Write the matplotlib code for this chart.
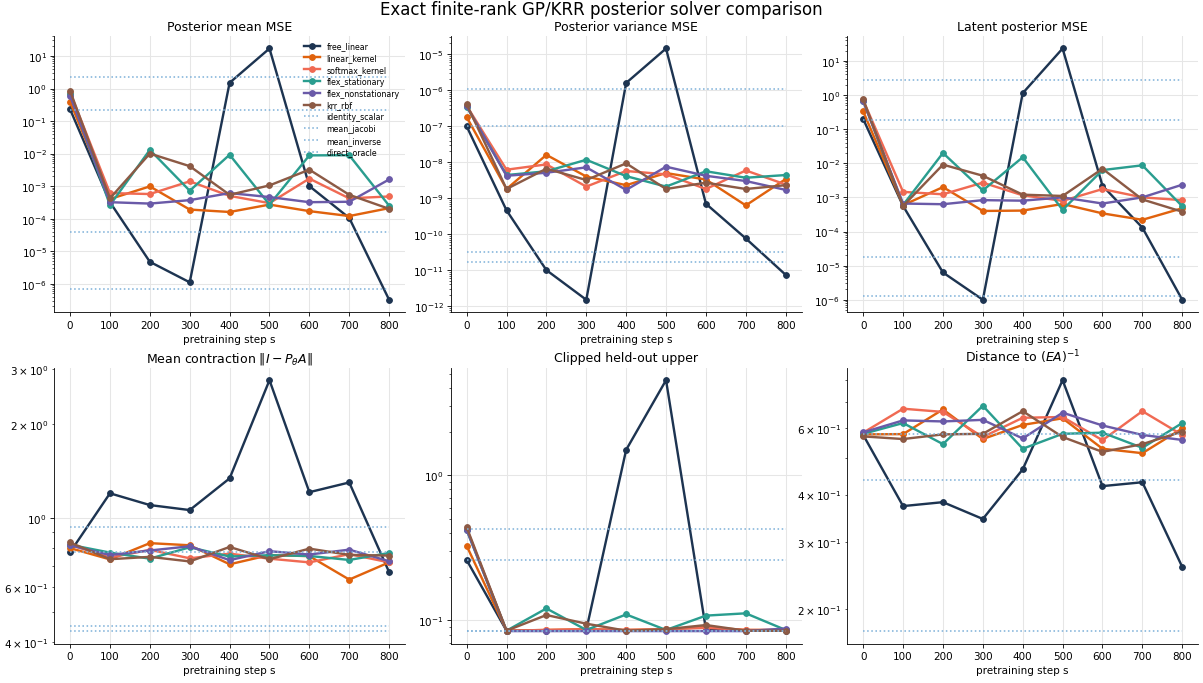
import numpy as np
import matplotlib
matplotlib.use("Agg")
import matplotlib.pyplot as plt

steps = [0, 100, 200, 300, 400, 500, 600, 700, 800]

methods = ["free_linear", "linear_kernel", "softmax_kernel",
           "flex_stationary", "flex_nonstationary", "krr_rbf"]
colors = {
    "free_linear": "#1d3451",
    "linear_kernel": "#e0620d",
    "softmax_kernel": "#f06a53",
    "flex_stationary": "#2a9d8f",
    "flex_nonstationary": "#6a5aa8",
    "krr_rbf": "#8c5a45",
}
baselines = ["identity_scalar", "mean_jacobi", "mean_inverse", "direct_oracle"]

# posterior mean MSE
mean_mse = {
    "free_linear": [0.23, 3.2e-4, 4.7e-6, 1.1e-6, 1.5, 17.0, 1.0e-3, 1.05e-4, 3.2e-7],
    "linear_kernel": [0.39, 4.0e-4, 9.8e-4, 1.9e-4, 1.6e-4, 2.7e-4, 1.7e-4, 1.2e-4, 2.1e-4],
    "softmax_kernel": [0.75, 6.1e-4, 5.7e-4, 1.4e-3, 5.0e-4, 3.0e-4, 1.7e-3, 4.2e-4, 4.8e-4],
    "flex_stationary": [0.7, 2.6e-4, 1.3e-2, 7.2e-4, 9.2e-3, 2.7e-4, 8.8e-3, 8.9e-3, 2.5e-4],
    "flex_nonstationary": [0.6, 3.2e-4, 2.9e-4, 3.7e-4, 6.1e-4, 4.6e-4, 3.2e-4, 3.3e-4, 1.6e-3],
    "krr_rbf": [0.85, 4.2e-4, 1.0e-2, 4.1e-3, 5.4e-4, 1.05e-3, 3.2e-3, 5.4e-4, 2.0e-4],
}
mean_mse_base = [2.3, 0.22, 4.0e-5, 6.9e-7]

# posterior variance MSE
var_mse = {
    "free_linear": [1.0e-7, 4.6e-10, 1.0e-11, 1.5e-12, 1.6e-6, 1.45e-5, 7.0e-10, 7.6e-11, 7.4e-12],
    "linear_kernel": [1.8e-7, 1.8e-9, 1.6e-8, 4.0e-9, 2.3e-9, 5.0e-9, 3.3e-9, 6.3e-10, 3.4e-9],
    "softmax_kernel": [3.7e-7, 6.2e-9, 8.7e-9, 2.1e-9, 5.7e-9, 4.6e-9, 1.8e-9, 5.9e-9, 2.4e-9],
    "flex_stationary": [3.5e-7, 4.4e-9, 5.6e-9, 1.17e-8, 4.1e-9, 2.1e-9, 5.6e-9, 3.7e-9, 4.4e-9],
    "flex_nonstationary": [3.6e-7, 4.2e-9, 5.1e-9, 7.2e-9, 1.7e-9, 7.5e-9, 4.2e-9, 3.0e-9, 1.7e-9],
    "krr_rbf": [4.1e-7, 1.8e-9, 6.6e-9, 3.2e-9, 9.3e-9, 1.8e-9, 2.7e-9, 1.8e-9, 2.3e-9],
}
var_mse_base = [1.1e-6, 1.0e-7, 3.2e-11, 1.65e-11]

# latent posterior MSE
latent_mse = {
    "free_linear": [0.197, 5.6e-4, 6.3e-6, 1.0e-6, 1.13, 23.0, 2.2e-3, 1.3e-4, 1.0e-6],
    "linear_kernel": [0.33, 5.9e-4, 2.0e-3, 4.0e-4, 4.1e-4, 6.4e-4, 3.4e-4, 2.2e-4, 4.8e-4],
    "softmax_kernel": [0.7, 1.45e-3, 1.23e-3, 2.7e-3, 1.15e-3, 7.9e-4, 1.75e-3, 1.0e-3, 8.3e-4],
    "flex_stationary": [0.68, 6.0e-4, 2.0e-2, 1.6e-3, 1.5e-2, 4.3e-4, 6.3e-3, 8.7e-3, 5.5e-4],
    "flex_nonstationary": [0.65, 6.6e-4, 6.3e-4, 8.3e-4, 8.0e-4, 1.0e-3, 6.6e-4, 1.0e-3, 2.35e-3],
    "krr_rbf": [0.74, 5.6e-4, 9.1e-3, 4.3e-3, 1.2e-3, 1.1e-3, 6.9e-3, 8.7e-4, 3.8e-4],
}
latent_mse_base = [2.8, 0.19, 1.78e-5, 1.3e-6]

# mean contraction ||I - P A||
contraction = {
    "free_linear": [0.776, 1.20, 1.10, 1.06, 1.34, 2.77, 1.21, 1.30, 0.67],
    "linear_kernel": [0.80, 0.736, 0.83, 0.817, 0.71, 0.76, 0.754, 0.634, 0.72],
    "softmax_kernel": [0.82, 0.746, 0.79, 0.742, 0.768, 0.74, 0.72, 0.765, 0.72],
    "flex_stationary": [0.82, 0.774, 0.74, 0.805, 0.752, 0.759, 0.755, 0.733, 0.772],
    "flex_nonstationary": [0.817, 0.76, 0.786, 0.811, 0.732, 0.782, 0.763, 0.791, 0.726],
    "krr_rbf": [0.834, 0.737, 0.75, 0.725, 0.807, 0.737, 0.797, 0.761, 0.757],
}
contraction_base = [0.938, 0.776, 0.45, 0.432]

# clipped held-out upper bound
heldout = {
    "free_linear": [0.261, 0.085, 0.085, 0.086, 1.5, 4.53, 0.087, 0.085, 0.085],
    "linear_kernel": [0.327, 0.085, 0.086, 0.087, 0.086, 0.087, 0.090, 0.086, 0.086],
    "softmax_kernel": [0.43, 0.085, 0.086, 0.087, 0.086, 0.087, 0.089, 0.086, 0.086],
    "flex_stationary": [0.42, 0.085, 0.121, 0.086, 0.110, 0.086, 0.108, 0.112, 0.086],
    "flex_nonstationary": [0.423, 0.0845, 0.0845, 0.0845, 0.0845, 0.0845, 0.0845, 0.0845, 0.088],
    "krr_rbf": [0.44, 0.085, 0.109, 0.095, 0.085, 0.087, 0.093, 0.085, 0.085],
}
heldout_base = [0.425, 0.26, 0.084, 0.084]

# distance to (EA)^-1
distance = {
    "free_linear": [0.574, 0.373, 0.382, 0.345, 0.466, 0.80, 0.421, 0.431, 0.258],
    "linear_kernel": [0.576, 0.577, 0.67, 0.56, 0.61, 0.635, 0.528, 0.514, 0.597],
    "softmax_kernel": [0.582, 0.673, 0.66, 0.567, 0.637, 0.64, 0.556, 0.663, 0.574],
    "flex_stationary": [0.578, 0.617, 0.543, 0.685, 0.528, 0.578, 0.582, 0.531, 0.617],
    "flex_nonstationary": [0.583, 0.627, 0.623, 0.629, 0.562, 0.657, 0.608, 0.574, 0.557],
    "krr_rbf": [0.569, 0.56, 0.576, 0.578, 0.663, 0.567, 0.518, 0.543, 0.586],
}
distance_base = [0.579, 0.437, np.nan, 0.1745]

panels = [
    ("Posterior mean MSE", mean_mse, mean_mse_base),
    ("Posterior variance MSE", var_mse, var_mse_base),
    ("Latent posterior MSE", latent_mse, latent_mse_base),
    (r"Mean contraction $\|I-P_\theta A\|$", contraction, contraction_base),
    ("Clipped held-out upper", heldout, heldout_base),
    (r"Distance to $(EA)^{-1}$", distance, distance_base),
]

fig, axes = plt.subplots(2, 3, figsize=(1203 / 75, 684 / 75), dpi=75)
fig.subplots_adjust(left=0.045, right=0.996, top=0.946, bottom=0.057,
                    wspace=0.13, hspace=0.2)

for ax, (title, data, base) in zip(axes.flat, panels):
    for m in methods:
        ax.plot(steps, data[m], "-o", color=colors[m], lw=2.3, ms=5.5, label=m)
    for b, val in zip(baselines, base):
        ax.plot(steps, [val] * len(steps), ":", color="#7fb1d9", lw=1.5, label=b)
    ax.set_yscale("log")
    ax.set_title(title, fontsize=12)
    ax.set_xlabel("pretraining step s", fontsize=10)
    ax.set_xticks(steps)
    ax.tick_params(labelsize=10)
    ax.grid(True, color="#e6e6e6", lw=1.0)
    ax.spines["top"].set_visible(False)
    ax.spines["right"].set_visible(False)

axes[0, 0].legend(loc="upper right", fontsize=7.6, frameon=False,
                  handlelength=2.0, labelspacing=0.35, borderaxespad=0.3)

fig.suptitle("Exact finite-rank GP/KRR posterior solver comparison", fontsize=16, y=0.998)
fig.savefig("out.png", dpi=75)
